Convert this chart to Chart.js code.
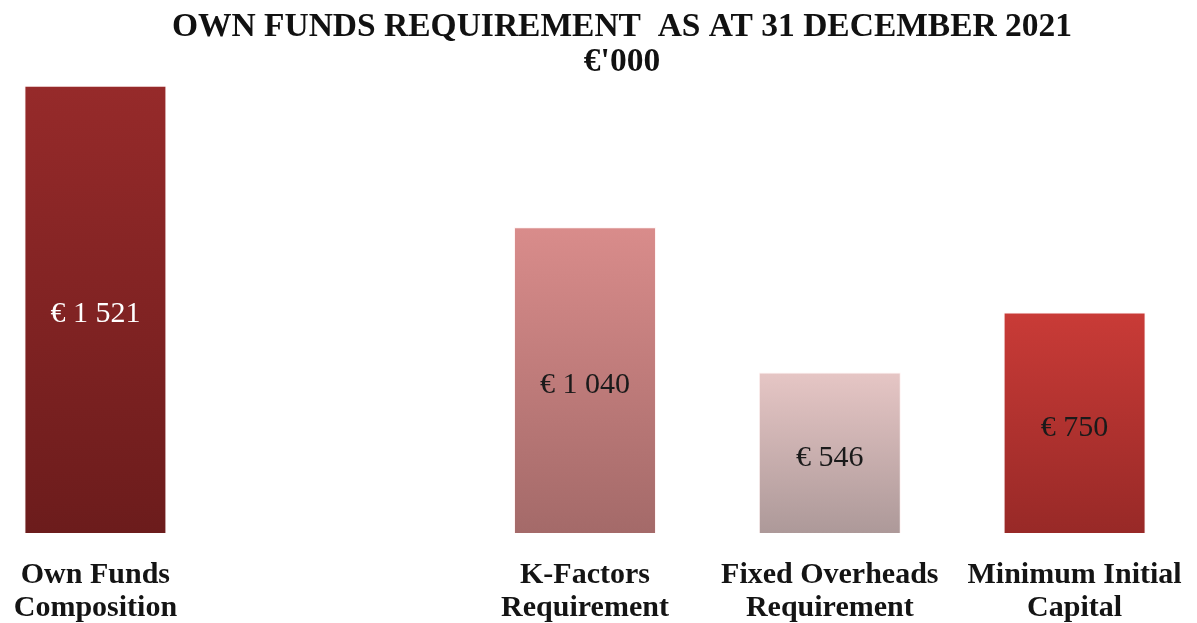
<!DOCTYPE html>
<html>
<head>
<meta charset="utf-8">
<script src="https://cdn.jsdelivr.net/npm/chart.js@4.4.1/dist/chart.umd.min.js"></script>
<style>
  html, body { margin: 0; padding: 0; background: #fff; }
  #wrap { position: relative; width: 1197px; height: 623px; overflow: hidden; }
  #chart { position: absolute; left: -27px; top: 0; }
</style>
</head>
<body>
<div id="wrap"><canvas id="chart" width="1298" height="623"></canvas></div>
<script>
/* data */
const categories = [
  ["Own Funds", "Composition"],
  "",
  ["K-Factors", "Requirement"],
  ["Fixed Overheads", "Requirement"],
  ["Minimum Initial", "Capital"]
];
const values      = [1521, null, 1040, 546, 750];
const valueLabels = ["€ 1 521", "", "€ 1 040", "€ 546", "€ 750"];
const titleLines  = ["OWN FUNDS REQUIREMENT  AS AT 31 DECEMBER 2021", "€'000"];

const topColors    = ["#962a2a", null, "#d98c8b", "#e6c6c5", "#c93b37"];
const bottomColors = ["#6c1c1c", null, "#a46a69", "#ad9999", "#982927"];
const labelColors  = ["#ffffff", null, "#1a1a1a", "#1a1a1a", "#1a1a1a"];

const FONT = "'Liberation Serif', 'Times New Roman', serif";

function barGradient(ctx) {
  const chart = ctx.chart;
  const i = ctx.dataIndex;
  if (!chart.chartArea || values[i] == null) return topColors[i] || "#000";
  const y = chart.scales.y;
  const g = chart.ctx.createLinearGradient(0, y.getPixelForValue(values[i]), 0, y.getPixelForValue(0));
  g.addColorStop(0, topColors[i]);
  g.addColorStop(1, bottomColors[i]);
  return g;
}

const valueLabelPlugin = {
  id: "valueLabels",
  afterDatasetsDraw(chart) {
    const c = chart.ctx;
    const meta = chart.getDatasetMeta(0);
    c.save();
    c.font = "30px " + FONT;
    c.textAlign = "center";
    c.textBaseline = "middle";
    meta.data.forEach((bar, i) => {
      if (!valueLabels[i]) return;
      const p = bar.getProps(["x", "y", "base"], true);
      c.fillStyle = labelColors[i];
      c.fillText(valueLabels[i], p.x, (p.y + p.base) / 2 + 5);
    });
    c.restore();
  }
};

new Chart(document.getElementById("chart"), {
  type: "bar",
  data: {
    labels: categories,
    datasets: [{
      data: values,
      backgroundColor: barGradient,
      borderColor: "rgba(255,235,235,0.6)",
      borderWidth: 1,
      barPercentage: 0.58,
      categoryPercentage: 1
    }]
  },
  options: {
    responsive: false,
    animation: false,
    layout: { padding: { left: 0, right: 0, top: 10, bottom: 0 } },
    plugins: {
      legend: { display: false },
      tooltip: { enabled: false },
      title: {
        display: true,
        text: titleLines,
        color: "#111111",
        font: { family: FONT, size: 33.5, weight: "bold", lineHeight: 1.045 },
        padding: { top: 0, bottom: 4 }
      }
    },
    scales: {
      x: {
        grid: { display: false },
        border: { display: false },
        ticks: {
          color: "#141414",
          padding: 18,
          maxRotation: 0,
          autoSkip: false,
          font: { family: FONT, size: 30, weight: "bold", lineHeight: 1.1 }
        },
        afterFit(scale) { scale.height = 90; }
      },
      y: {
        position: "right",
        min: 0,
        max: 1527,
        grid: { display: false },
        border: { display: false },
        ticks: { display: false },
        afterFit(scale) { scale.width = 74; }
      }
    }
  },
  plugins: [valueLabelPlugin]
});
</script>
</body>
</html>
